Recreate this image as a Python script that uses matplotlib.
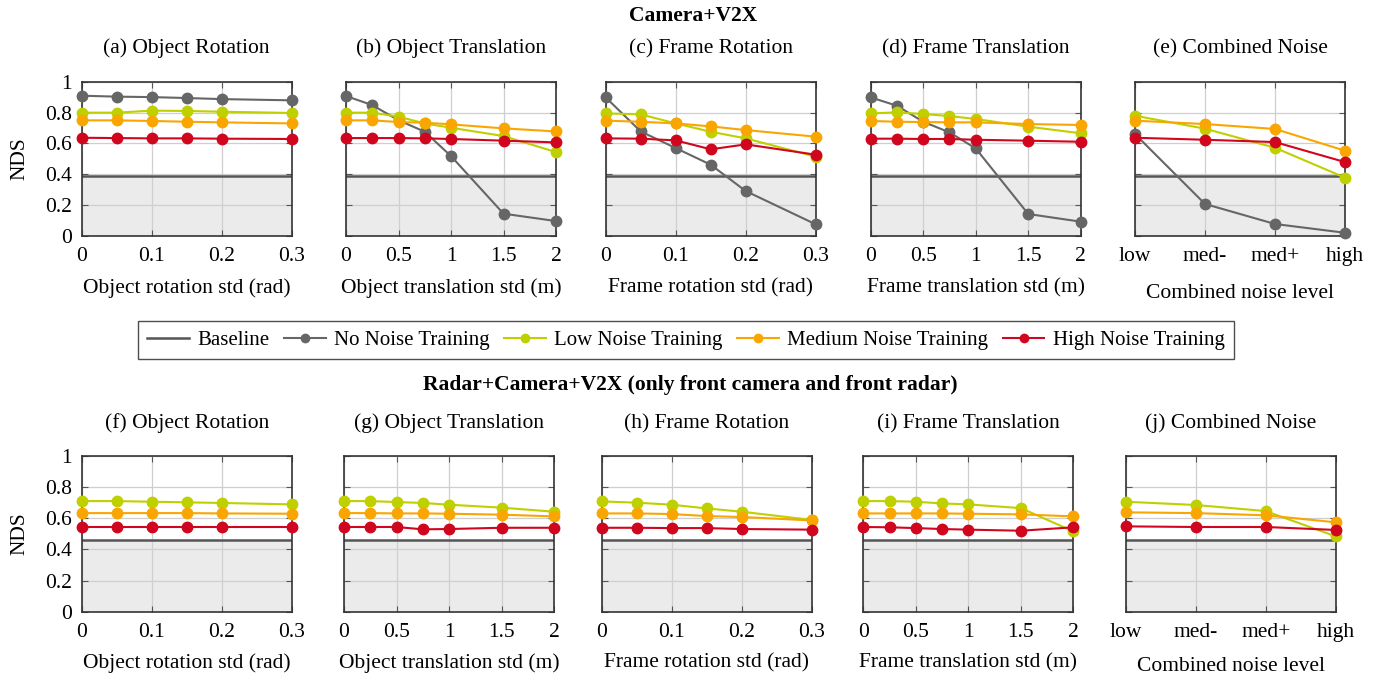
import matplotlib
matplotlib.use('Agg')
import matplotlib.pyplot as plt
from matplotlib.lines import Line2D

plt.rcParams['font.family'] = ['Liberation Serif', 'DejaVu Serif']
plt.rcParams['mathtext.fontset'] = 'cm'

# ---------------- data ----------------
rot_x = [0, 0.05, 0.1, 0.15, 0.2, 0.3]
trans_x = [0, 0.25, 0.5, 0.75, 1, 1.5, 2]
comb_labels = ['low', 'med-', 'med+', 'high']
comb_x = [0, 1, 2, 3]

series_names = ['No Noise Training', 'Low Noise Training',
                'Medium Noise Training', 'High Noise Training']

# Camera+V2X
cam_baseline = 0.39
cam_obj_rot = {
    'No Noise Training':     [0.909, 0.903, 0.900, 0.894, 0.887, 0.879],
    'Low Noise Training':    [0.799, 0.799, 0.812, 0.810, 0.805, 0.797],
    'Medium Noise Training': [0.749, 0.749, 0.745, 0.740, 0.736, 0.729],
    'High Noise Training':   [0.636, 0.634, 0.632, 0.632, 0.630, 0.628],
}
cam_obj_trans = {
    'No Noise Training':     [0.907, 0.848, 0.750, 0.675, 0.517, 0.143, 0.095],
    'Low Noise Training':    [0.799, 0.799, 0.773, 0.729, 0.701, 0.647, 0.543],
    'Medium Noise Training': [0.749, 0.749, 0.738, 0.734, 0.723, 0.697, 0.677],
    'High Noise Training':   [0.634, 0.634, 0.634, 0.632, 0.628, 0.617, 0.606],
}
cam_frame_rot = {
    'No Noise Training':     [0.898, 0.677, 0.569, 0.461, 0.290, 0.074],
    'Low Noise Training':    [0.794, 0.788, 0.729, 0.675, 0.632, 0.513],
    'Medium Noise Training': [0.747, 0.740, 0.729, 0.710, 0.686, 0.643],
    'High Noise Training':   [0.632, 0.630, 0.619, 0.561, 0.593, 0.526],
}
cam_frame_trans = {
    'No Noise Training':     [0.898, 0.844, 0.740, 0.671, 0.567, 0.141, 0.091],
    'Low Noise Training':    [0.794, 0.801, 0.790, 0.777, 0.758, 0.708, 0.665],
    'Medium Noise Training': [0.745, 0.740, 0.738, 0.736, 0.736, 0.725, 0.719],
    'High Noise Training':   [0.630, 0.630, 0.628, 0.628, 0.623, 0.617, 0.610],
}
cam_comb = {
    'No Noise Training':     [0.660, 0.206, 0.076, 0.019],
    'Low Noise Training':    [0.779, 0.695, 0.571, 0.377],
    'Medium Noise Training': [0.747, 0.725, 0.693, 0.552],
    'High Noise Training':   [0.636, 0.623, 0.608, 0.478],
}

# Radar+Camera+V2X
rad_baseline = 0.457
rad_obj_rot = {
    'Low Noise Training':    [0.709, 0.709, 0.705, 0.701, 0.697, 0.688],
    'Medium Noise Training': [0.632, 0.632, 0.632, 0.632, 0.630, 0.628],
    'High Noise Training':   [0.543, 0.543, 0.543, 0.543, 0.543, 0.543],
}
rad_obj_trans = {
    'Low Noise Training':    [0.709, 0.709, 0.703, 0.697, 0.686, 0.667, 0.641],
    'Medium Noise Training': [0.632, 0.632, 0.630, 0.630, 0.628, 0.622, 0.611],
    'High Noise Training':   [0.543, 0.543, 0.543, 0.528, 0.530, 0.538, 0.538],
}
rad_frame_rot = {
    'Low Noise Training':    [0.707, 0.699, 0.686, 0.662, 0.641, 0.588],
    'Medium Noise Training': [0.630, 0.630, 0.626, 0.613, 0.607, 0.585],
    'High Noise Training':   [0.538, 0.538, 0.536, 0.536, 0.530, 0.526],
}
rad_frame_trans = {
    'Low Noise Training':    [0.709, 0.709, 0.705, 0.694, 0.688, 0.664, 0.515],
    'Medium Noise Training': [0.630, 0.630, 0.630, 0.630, 0.628, 0.624, 0.611],
    'High Noise Training':   [0.543, 0.541, 0.536, 0.530, 0.526, 0.519, 0.541],
}
rad_comb = {
    'Low Noise Training':    [0.705, 0.684, 0.645, 0.483],
    'Medium Noise Training': [0.637, 0.632, 0.618, 0.573],
    'High Noise Training':   [0.547, 0.543, 0.543, 0.524],
}

titles_top = ['(a) Object Rotation', '(b) Object Translation', '(c) Frame Rotation',
              '(d) Frame Translation', '(e) Combined Noise']
titles_bot = ['(f) Object Rotation', '(g) Object Translation', '(h) Frame Rotation',
              '(i) Frame Translation', '(j) Combined Noise']
xlabels = ['Object rotation std (rad)', 'Object translation std (m)',
           'Frame rotation std (rad)', 'Frame translation std (m)',
           'Combined noise level']

colors = {
    'Baseline': '#555555',
    'No Noise Training': '#666666',
    'Low Noise Training': '#bfd000',
    'Medium Noise Training': '#f9a602',
    'High Noise Training': '#d0061f',
}

# ---------------- figure ----------------
W, H = 1387, 681
fig = plt.figure(figsize=(W / 100, H / 100), dpi=100)

FS = 15.5


def px_axes(left, top, width, height):
    return fig.add_axes([left / W, 1 - (top + height) / H, width / W, height / H])


top_lefts = [81.7, 346, 605.7, 870.7, 1135]
bot_lefts = [81.7, 344, 601.7, 863.3, 1125.7]

top_data = [(rot_x, cam_obj_rot), (trans_x, cam_obj_trans), (rot_x, cam_frame_rot),
            (trans_x, cam_frame_trans), (comb_x, cam_comb)]
bot_data = [(rot_x, rad_obj_rot), (trans_x, rad_obj_trans), (rot_x, rad_frame_rot),
            (trans_x, rad_frame_trans), (comb_x, rad_comb)]


def draw_panel(ax, xs, data, baseline, idx, title, title_y_px, xlabel_top_px, ax_bottom_px, ax_h):
    ax.set_ylim(0, 1)
    if idx == 4:
        ax.set_xlim(0, 3)
        ax.set_xticks(comb_x)
        ax.set_xticklabels(comb_labels)
    else:
        ax.set_xlim(xs[0], xs[-1])
        if xs is rot_x:
            ax.set_xticks([0, 0.1, 0.2, 0.3])
            ax.set_xticklabels(['0', '0.1', '0.2', '0.3'])
        else:
            ax.set_xticks([0, 0.5, 1, 1.5, 2])
            ax.set_xticklabels(['0', '0.5', '1', '1.5', '2'])
    ax.set_yticks([0, 0.2, 0.4, 0.6, 0.8, 1])
    if idx == 0:
        ax.set_yticklabels(['0', '0.2', '0.4', '0.6', '0.8', '1'])
        ax.set_ylabel('NDS', fontsize=FS)
        ax.yaxis.set_label_coords(-0.25, 0.5)
    else:
        ax.set_yticklabels([])
    ax.grid(True, color='#cfcfcf', lw=0.9, zorder=1)
    ax.set_axisbelow(True)
    x0, x1 = ax.get_xlim()
    ax.fill_between([x0, x1], [0, 0], [baseline, baseline], color='#ebebeb', zorder=0, lw=0)
    ax.axhline(baseline, color=colors['Baseline'], lw=1.8, zorder=2)
    for name in series_names:
        if name in data:
            ax.plot(xs, data[name], color=colors[name], lw=1.5, marker='o', ms=7.5,
                    zorder=3, clip_on=False)
    ax.tick_params(direction='in', length=4, width=0.8, color='#555555',
                   top=True, right=True, labelsize=FS, pad=8)
    ax.tick_params(axis='y', pad=7)
    for sp in ax.spines.values():
        sp.set_color('#333333')
        sp.set_linewidth(1.2)
        sp.set_zorder(2.5)
    ax.set_xlabel(xlabels[idx], fontsize=FS)
    ax.xaxis.set_label_coords(0.5, -(xlabel_top_px - ax_bottom_px) / ax_h)
    ax.text(0.5, 1 + (ax_bottom_px - ax_h - title_y_px) / ax_h, title, transform=ax.transAxes,
            ha='center', va='center', fontsize=FS)


for i in range(5):
    ax = px_axes(top_lefts[i], 81.7, 210, 154)
    xs, data = top_data[i]
    xl = 284 if i == 4 else 278
    draw_panel(ax, xs, data, cam_baseline, i, titles_top[i], 48.5, xl, 235.7, 154)

for i in range(5):
    ax = px_axes(bot_lefts[i], 455.7, 210, 156)
    xs, data = bot_data[i]
    xl = 657 if i == 4 else 653
    draw_panel(ax, xs, data, rad_baseline, i, titles_bot[i], 423.5, xl, 611.7, 156)

fig.text(693 / W, 1 - 16 / H, 'Camera+V2X', ha='center', va='center',
         fontsize=FS, fontweight='bold')
fig.text(690 / W, 1 - 385 / H, 'Radar+Camera+V2X (only front camera and front radar)',
         ha='center', va='center', fontsize=FS, fontweight='bold')

handles = [Line2D([], [], color=colors['Baseline'], lw=1.8)]
for name in series_names:
    handles.append(Line2D([], [], color=colors[name], lw=1.5, marker='o', ms=6))
labels = ['Baseline'] + series_names
leg = fig.legend(handles, labels, loc='center', bbox_to_anchor=(686 / W, 1 - 340 / H),
                 ncol=5, fontsize=15, frameon=True, fancybox=False, edgecolor='#222222',
                 handlelength=2.0, handletextpad=0.4, columnspacing=0.7,
                 borderpad=0.45)
leg.get_frame().set_linewidth(1.0)

fig.savefig('out.png', dpi=100)
